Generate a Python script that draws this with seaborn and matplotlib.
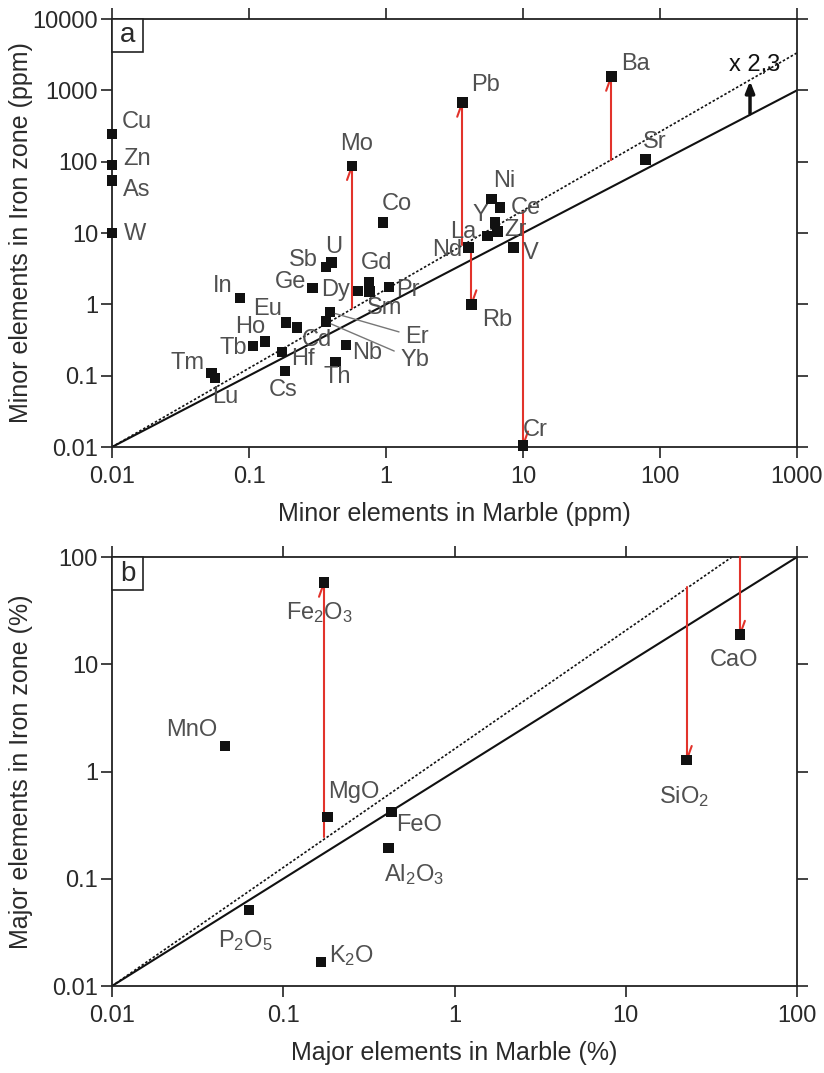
import matplotlib
matplotlib.use("Agg")
import matplotlib.pyplot as plt
import seaborn as sns
import pandas as pd
from matplotlib.patches import Rectangle
from matplotlib.ticker import FixedLocator, FixedFormatter, NullLocator

# ---------------- data: panel a (minor elements, ppm) ----------------
minor_elements = ["Cu", "Zn", "As", "W", "Mo", "Co", "Pb", "Ba", "Sr", "Ni", "Ce", "Y", "Zr",
                  "La", "Nd", "V", "Rb", "Cr", "Sb", "U", "Gd", "Dy", "Sm", "Pr", "Ge", "In",
                  "Eu", "Cd", "Er", "Yb", "Ho", "Tb", "Hf", "Cs", "Nb", "Th", "Tm", "Lu"]
minor_marble = [0.01, 0.01, 0.01, 0.01, 0.565, 0.95, 3.6, 44, 78, 5.9, 6.8, 6.25, 6.5,
                5.5, 4.0, 8.5, 4.2, 10, 0.365, 0.40, 0.75, 0.625, 0.76, 1.05, 0.29, 0.086,
                0.186, 0.224, 0.39, 0.365, 0.131, 0.107, 0.174, 0.183, 0.51, 0.43, 0.053, 0.0565]
minor_iron = [245, 90, 55, 10, 87, 14, 670, 1550, 106, 30, 22.5, 14, 10.4,
              9.1, 6.2, 6.2, 1.0, 0.0105, 3.35, 3.9, 2.0, 1.54, 1.5, 1.75, 1.7, 1.23,
              0.55, 0.47, 0.78, 0.57, 0.30, 0.26, 0.215, 0.116, 0.27, 0.156, 0.109, 0.093]
minor_shift_elements = ["Mo", "Pb", "Ba", "Rb", "Cr"]
minor_shift_from = [0.89, 6.8, 106, 7.0, 20]

ref_a_x = [0.01, 1000]
ref_a_y = [0.01, 1000]
enr_a_x = [0.01, 1000]
enr_a_y = [0.01, 3350]
factor_x = 454
factor_from = 470
factor_to = 1350
factor_text = "x 2,3"

ticks_a_x = [0.01, 0.1, 1, 10, 100, 1000]
ticks_a_x_labels = ["0.01", "0.1", "1", "10", "100", "1000"]
ticks_a_y = [0.01, 0.1, 1, 10, 100, 1000, 10000]
ticks_a_y_labels = ["0.01", "0.1", "1", "10", "100", "1000", "10000"]

# ---------------- data: panel b (major elements, %) ----------------
major_elements = ["Fe$_2$O$_3$", "MnO", "MgO", "FeO", "Al$_2$O$_3$", "P$_2$O$_5$",
                  "K$_2$O", "CaO", "SiO$_2$"]
major_marble = [0.173, 0.0457, 0.182, 0.43, 0.41, 0.063, 0.166, 46.4, 22.7]
major_iron = [57.5, 1.73, 0.377, 0.42, 0.194, 0.051, 0.0167, 18.8, 1.28]
major_shift_elements = ["Fe$_2$O$_3$", "SiO$_2$", "CaO"]
major_shift_from = [0.245, 52, 100]

ref_b_x = [0.01, 100]
ref_b_y = [0.01, 100]
enr_b_x = [0.01, 41.7]
enr_b_y = [0.01, 100]

ticks_b = [0.01, 0.1, 1, 10, 100]
ticks_b_labels = ["0.01", "0.1", "1", "10", "100"]

# ---------------- layout (label offsets in pixels: right, up) ----------------
label_offsets_a = {
    "Cu": (25, 12), "Zn": (25, 6), "As": (25, -10), "W": (23, -1), "Mo": (5, 22),
    "Co": (14, 19), "Pb": (23, 18), "Ba": (24, 13), "Sr": (9, 18), "Ni": (13, 18),
    "Ce": (26, 0), "Y": (-15, 8), "Zr": (18, 2), "La": (-24, 4), "Nd": (-21, -2),
    "V": (17, -5), "Rb": (26, -16), "Cr": (12, 15), "Sb": (-23, 7), "U": (2, 15),
    "Gd": (8, 20), "Dy": (-22, 1), "Sm": (15, -16), "Pr": (19, -3), "Ge": (-22, 6),
    "In": (-17, 12), "Eu": (-18, 14), "Cd": (20, -12), "Ho": (-15, 15), "Tb": (-20, -2),
    "Hf": (21, -7), "Cs": (-2, -19), "Nb": (21, -8), "Th": (1, -15), "Tm": (-24, 10),
    "Lu": (10, -19),
}
leader_offsets_a = {"Er": (75, -25), "Yb": (74, -38)}
label_offsets_b = {
    "Fe$_2$O$_3$": (-5, -30), "MnO": (-33, 16), "MgO": (26, 25), "FeO": (27, -13),
    "Al$_2$O$_3$": (26, -27), "P$_2$O$_5$": (-3, -30), "K$_2$O": (31, 7),
    "CaO": (-6, -25), "SiO$_2$": (-3, -37),
}

sns.set_theme(style="ticks")
plt.rcParams["font.family"] = ["Liberation Sans", "DejaVu Sans"]
plt.rcParams["mathtext.fontset"] = "custom"
plt.rcParams["mathtext.rm"] = "Liberation Sans"
plt.rcParams["mathtext.it"] = "Liberation Sans:italic"
plt.rcParams["mathtext.default"] = "rm"

PX = 0.72  # points per pixel at dpi 100
RED = "#e2332b"
LABEL_COL = "#505050"
TEXT_COL = "#2a2a2a"
FS = 17

fig = plt.figure(figsize=(8.24, 10.73), dpi=100)
ax_a = fig.add_axes([112 / 824, 1 - 447 / 1073, 685 / 824, 428 / 1073])
ax_b = fig.add_axes([112 / 824, 1 - 986 / 1073, 685 / 824, 429 / 1073])


def style_axes(ax, xt, xl, yt, yl, lim_x, lim_y, xlabel, ylabel, xlab_y, panel):
    ax.set_xscale("log")
    ax.set_yscale("log")
    ax.set_xlim(*lim_x)
    ax.set_ylim(*lim_y)
    ax.xaxis.set_major_locator(FixedLocator(xt))
    ax.xaxis.set_major_formatter(FixedFormatter(xl))
    ax.yaxis.set_major_locator(FixedLocator(yt))
    ax.yaxis.set_major_formatter(FixedFormatter(yl))
    ax.xaxis.set_minor_locator(NullLocator())
    ax.yaxis.set_minor_locator(NullLocator())
    ax.tick_params(which="major", direction="out", top=True, right=True,
                   labeltop=False, labelright=False, length=8, width=1.2,
                   color="#222222", labelsize=FS, labelcolor=TEXT_COL)
    ax.tick_params(axis="x", pad=6)
    ax.tick_params(axis="y", pad=2)
    for s in ax.spines.values():
        s.set_linewidth(1.3)
        s.set_color("#222222")
    ax.set_xlabel(xlabel, fontsize=18, color=TEXT_COL)
    ax.set_ylabel(ylabel, fontsize=18, color=TEXT_COL)
    ax.xaxis.label.set_va("center")
    ax.yaxis.label.set_va("center")
    ax.xaxis.set_label_coords(0.5, xlab_y)
    ax.yaxis.set_label_coords(-91 / 685, 0.5)
    bb = ax.get_window_extent()
    w = 31 / bb.width * 100 / fig.dpi
    h = 33 / bb.height * 100 / fig.dpi
    ax.add_patch(Rectangle((0, 1 - h), w, h, transform=ax.transAxes, fc="white",
                           ec="#222222", lw=1.2, zorder=6, clip_on=False))
    ax.text(w / 2, 1 - h / 2, panel, transform=ax.transAxes, ha="center",
            va="center", fontsize=20, color=TEXT_COL, zorder=7)


def shift_arrows(ax, elements, xs, ys, names, starts):
    lookup = {e: (x, y) for e, x, y in zip(elements, xs, ys)}
    for name, y0 in zip(names, starts):
        x, y1 = lookup[name]
        ax.plot([x, x], [y0, y1], color=RED, lw=1.5, zorder=3, clip_on=False)
        sgn = 1 if y1 < y0 else -1
        ax.annotate("", xy=(x, y1), xytext=(sgn * 5 * PX, sgn * 14 * PX),
                    textcoords="offset points",
                    arrowprops=dict(arrowstyle="-", color=RED, lw=1.5,
                                    shrinkA=0, shrinkB=0), zorder=3)


def label_points(ax, elements, xs, ys, offsets):
    for e, x, y in zip(elements, xs, ys):
        if e in offsets:
            dx, dy = offsets[e]
            ax.annotate(e, xy=(x, y), xytext=(dx * PX, dy * PX), textcoords="offset points",
                        ha="center", va="center", fontsize=FS, color=LABEL_COL, zorder=5)


# ---------------- panel a ----------------
df_a = pd.DataFrame({"element": minor_elements, "marble": minor_marble, "iron": minor_iron})
sns.lineplot(x=ref_a_x, y=ref_a_y, ax=ax_a, color="#111111", lw=1.5, zorder=2)
ax_a.plot(enr_a_x, enr_a_y, color="#111111", lw=1.2, ls=(0, (1.5, 1.2)), zorder=2)
shift_arrows(ax_a, minor_elements, minor_marble, minor_iron, minor_shift_elements, minor_shift_from)
sns.scatterplot(data=df_a, x="marble", y="iron", ax=ax_a, marker="s", s=60,
                color="#111111", edgecolor="none", zorder=4, clip_on=False, legend=False)
label_points(ax_a, minor_elements, minor_marble, minor_iron, label_offsets_a)
for e, (dx, dy) in leader_offsets_a.items():
    i = minor_elements.index(e)
    ax_a.annotate(e, xy=(minor_marble[i], minor_iron[i]), xytext=(dx * PX, dy * PX),
                  textcoords="offset points", ha="left", va="center", fontsize=FS,
                  color=LABEL_COL, zorder=5,
                  arrowprops=dict(arrowstyle="-", color="#777777", lw=1.0,
                                  shrinkA=2, shrinkB=4))
ax_a.annotate("", xy=(factor_x, factor_to), xytext=(factor_x, factor_from),
              arrowprops=dict(arrowstyle="-|>,head_length=0.55,head_width=0.22",
                              color="#111111", lw=2.5, shrinkA=0, shrinkB=0), zorder=5)
ax_a.annotate(factor_text, xy=(factor_x, factor_to), xytext=(5 * PX, 16 * PX),
              textcoords="offset points", ha="center", va="center", fontsize=FS,
              color="#111111")
style_axes(ax_a, ticks_a_x, ticks_a_x_labels, ticks_a_y, ticks_a_y_labels,
           (0.01, 1000), (0.01, 10000), "Minor elements in Marble (ppm)",
           "Minor elements in Iron zone (ppm)", -67 / 428, "a")

# ---------------- panel b ----------------
df_b = pd.DataFrame({"element": major_elements, "marble": major_marble, "iron": major_iron})
sns.lineplot(x=ref_b_x, y=ref_b_y, ax=ax_b, color="#111111", lw=1.5, zorder=2)
ax_b.plot(enr_b_x, enr_b_y, color="#111111", lw=1.2, ls=(0, (1.5, 1.2)), zorder=2)
shift_arrows(ax_b, major_elements, major_marble, major_iron, major_shift_elements, major_shift_from)
sns.scatterplot(data=df_b, x="marble", y="iron", ax=ax_b, marker="s", s=60,
                color="#111111", edgecolor="none", zorder=4, clip_on=False, legend=False)
label_points(ax_b, major_elements, major_marble, major_iron, label_offsets_b)
style_axes(ax_b, ticks_b, ticks_b_labels, ticks_b, ticks_b_labels,
           (0.01, 100), (0.01, 100), "Major elements in Marble (%)",
           "Major elements in Iron zone (%)", -67 / 429, "b")

fig.savefig("out.png", dpi=100)
